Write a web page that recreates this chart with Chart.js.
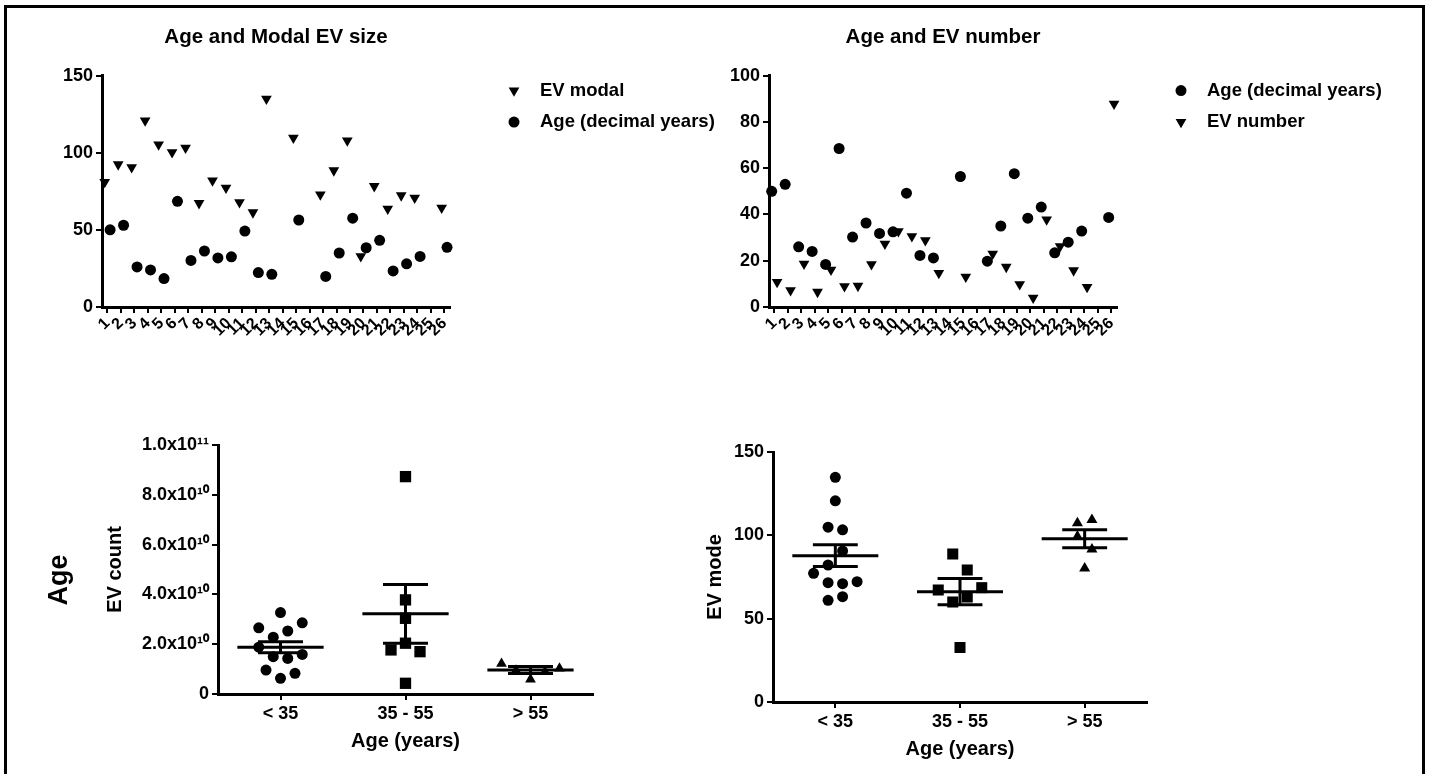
<!DOCTYPE html>
<html>
<head>
<meta charset="utf-8">
<title>Age and EV</title>
<script src="https://cdn.jsdelivr.net/npm/chart.js@4.4.1/dist/chart.umd.min.js"></script>
<style>
  html, body { margin: 0; padding: 0; background: #fff; }
  body { width: 1429px; height: 774px; position: relative; overflow: hidden; }
  .frame { position: absolute; left: 4px; top: 5px; width: 1421px; height: 820px; box-sizing: border-box; border: 3px solid #000; }
  canvas { position: absolute; }
</style>
</head>
<body>
<div class="frame"></div>
<canvas id="modalChart" width="720" height="390" style="left:0;top:0"></canvas>
<canvas id="numberChart" width="739" height="390" style="left:690px;top:0"></canvas>
<canvas id="countChart" width="640" height="374" style="left:0;top:400px"></canvas>
<canvas id="modeChart" width="789" height="374" style="left:640px;top:400px"></canvas>
<script>
// subjects 1..26 (14, 16 and 25 have no values)
const subjects = ['1','2','3','4','5','6','7','8','9','10','11','12','13','14','15','16','17','18','19','20','21','22','23','24','25','26'];
const evModal  = [81, 92.4, 90.6, 120.8, 105.3, 100.3, 103.2, 67.3, 82, 77.3, 67.8, 61.3, 134.9, null, 109.6, null, 72.9, 88.5, 107.9, 32.8, 78.3, 63.7, 72.3, 70.8, null, 64.3];
const ageYears = [50, 53, 26, 24, 18.4, 68.5, 30.2, 36.3, 31.8, 32.5, 49.2, 22.3, 21.2, null, 56.4, null, 19.8, 35, 57.6, 38.4, 43.2, 23.4, 28, 32.8, null, 38.7];
const evNumber = [10.8, 7.2, 18.7, 6.5, 16.1, 8.9, 9.1, 18.4, 27.3, 32.7, 30.5, 28.8, 14.7, null, 13, null, 23, 17.3, 9.8, 4, 37.8, 26.2, 15.8, 8.6, null, 87.8];

// grouped by age
const ageGroups = ['< 35', '35 - 55', '> 55'];
const countUnder35 = [3.27e10, 2.66e10, 2.28e10, 2.53e10, 2.86e10, 1.88e10, 1.50e10, 1.43e10, 1.59e10, 0.96e10, 0.63e10, 0.83e10];
const count35to55  = [8.73e10, 3.78e10, 3.04e10, 1.77e10, 2.04e10, 1.70e10, 0.43e10];
const countOver55  = [1.22e10, 0.95e10, 0.59e10, 0.90e10, 1.03e10];
const countMean = [1.88e10, 3.22e10, 0.96e10];
const countSem  = [0.22e10, 1.18e10, 0.14e10];
const countTicks = ['0', '2.0x10¹⁰', '4.0x10¹⁰', '6.0x10¹⁰', '8.0x10¹⁰', '1.0x10¹¹'];

const modeUnder35 = [134.8, 120.7, 104.9, 103.3, 82.2, 90.6, 77.2, 71.6, 71, 72.2, 61, 63.2];
const mode35to55  = [88.8, 79.2, 67.2, 60, 63, 68.6, 32.7];
const modeOver55  = [107.3, 109.3, 99.3, 91.6, 80.2];
const modeMean = [87.8, 66.2, 98.0];
const modeSem  = [6.5, 7.9, 5.4];

const FONT = "'Liberation Sans', Arial, Helvetica, sans-serif";
const black = '#000';
const bold = size => ({ family: FONT, size, weight: 'bold' });

// legend at the right of the plot, like the Prism export
const sideKey = {
  id: 'sideKey',
  afterDraw(chart, args, o) {
    if (!o || !o.show) return;
    const { ctx, chartArea } = chart;
    ctx.save();
    ctx.fillStyle = black;
    ctx.font = `bold ${o.size}px ${FONT}`;
    ctx.textAlign = 'left';
    ctx.textBaseline = 'middle';
    chart.data.datasets.forEach((ds, i) => {
      const x = chartArea.right + o.dx;
      const y = chartArea.top + o.dy + i * o.gap;
      Chart.helpers.drawPoint(ctx, { pointStyle: ds.pointStyle, rotation: ds.pointRotation || 0, radius: ds.pointRadius, borderWidth: 0 }, x, y);
      ctx.fillText(ds.label, x + o.textGap, y);
    });
    ctx.restore();
  }
};

// spread points of similar value side by side (scatter dot plot)
const swarm = {
  id: 'swarm',
  afterDatasetsUpdate(chart, args, o) {
    if (!o || !o.rowHeight) return;
    chart.data.datasets.forEach((ds, di) => {
      const pts = chart.getDatasetMeta(di).data;
      const order = pts.map((p, i) => i).sort((a, b) => pts[b].y - pts[a].y);
      let k = 0;
      while (k < order.length) {
        const baseY = pts[order[k]].y;
        const row = [];
        while (k < order.length && baseY - pts[order[k]].y <= o.rowHeight) row.push(order[k++]);
        row.sort((a, b) => a - b);
        row.forEach((idx, j) => { pts[idx].x += (j - (row.length - 1) / 2) * o.step; });
      }
    });
  }
};

// mean line with SEM whiskers
const meanSem = {
  id: 'meanSem',
  afterDatasetsDraw(chart, args, o) {
    if (!o || !o.means) return;
    const { ctx, scales: { x, y } } = chart;
    const unit = x.getPixelForValue(1) - x.getPixelForValue(0);
    const seg = (x0, y0, x1, y1) => { ctx.beginPath(); ctx.moveTo(x0, y0); ctx.lineTo(x1, y1); ctx.stroke(); };
    ctx.save();
    ctx.strokeStyle = black;
    ctx.lineWidth = o.lineWidth;
    o.means.forEach((m, i) => {
      const cx = x.getPixelForValue(i);
      const hi = y.getPixelForValue(m + o.sems[i]);
      const mid = y.getPixelForValue(m);
      const lo = y.getPixelForValue(m - o.sems[i]);
      seg(cx, hi, cx, lo);
      seg(cx - unit * o.meanHalf, mid, cx + unit * o.meanHalf, mid);
      seg(cx - unit * o.semHalf, hi, cx + unit * o.semHalf, hi);
      seg(cx - unit * o.semHalf, lo, cx + unit * o.semHalf, lo);
    });
    ctx.restore();
  }
};

// big rotated row label
const rowLabel = {
  id: 'rowLabel',
  afterDraw(chart, args, o) {
    if (!o || !o.text) return;
    const ctx = chart.ctx;
    ctx.save();
    ctx.translate(o.x, o.y);
    ctx.rotate(-Math.PI / 2);
    ctx.fillStyle = black;
    ctx.font = `bold ${o.size}px ${FONT}`;
    ctx.textAlign = 'center';
    ctx.textBaseline = 'middle';
    ctx.fillText(o.text, 0, 0);
    ctx.restore();
  }
};

const axisGrid = { drawOnChartArea: false, drawTicks: true, tickLength: 6, color: black, lineWidth: 2 };
const axisBorder = { display: true, color: black, width: 3 };

function subjectChart(id, o) {
  const datasets = o.series.map(s => ({
    label: s.label,
    data: s.values.map((v, i) => v == null ? null : { x: i + 1 + s.shift, y: v }).filter(Boolean),
    pointStyle: s.shape,
    pointRotation: s.rotation || 0,
    pointRadius: s.radius,
    backgroundColor: black,
    borderColor: black,
    borderWidth: 0,
    clip: false
  }));
  return new Chart(document.getElementById(id), {
    type: 'scatter',
    data: { datasets },
    plugins: [sideKey],
    options: {
      responsive: false,
      animation: false,
      events: [],
      layout: { padding: o.padding },
      plugins: {
        legend: { display: false },
        tooltip: { enabled: false },
        title: { display: true, text: o.title, fullSize: false, color: black, font: bold(20.5), padding: { top: 0, bottom: 26 } },
        sideKey: { show: true, dx: 64, dy: 15, gap: 31.5, textGap: 26, size: 18.5 }
      },
      scales: {
        x: {
          type: 'linear', min: 0.6, max: 26.42,
          afterBuildTicks: s => { s.ticks = subjects.map((_, i) => ({ value: i + 1 })); },
          afterFit: s => { s.height = 60; },
          ticks: { autoSkip: false, minRotation: 45, maxRotation: 45, padding: 1, color: black, font: bold(16),
                   callback: v => subjects[v - 1] },
          grid: axisGrid, border: axisBorder
        },
        y: {
          min: 0, max: o.yMax,
          afterFit: s => { s.width = 50; },
          ticks: { stepSize: o.yStep, padding: 3, color: black, font: bold(18) },
          grid: axisGrid, border: axisBorder
        }
      }
    }
  });
}

function groupChart(id, o) {
  const datasets = o.groups.map((vals, i) => ({
    label: ageGroups[i],
    data: vals.map(v => ({ x: ageGroups[i], y: v })),
    pointStyle: o.shapes[i].shape,
    pointRadius: o.shapes[i].radius,
    backgroundColor: black,
    borderColor: black,
    borderWidth: 0,
    clip: false
  }));
  return new Chart(document.getElementById(id), {
    type: 'scatter',
    data: { datasets },
    plugins: [swarm, meanSem, rowLabel],
    options: {
      responsive: false,
      animation: false,
      events: [],
      layout: { padding: o.padding },
      plugins: {
        legend: { display: false },
        tooltip: { enabled: false },
        swarm: { rowHeight: 16.2, step: 14.5 },
        meanSem: { means: o.means, sems: o.sems, lineWidth: 3, meanHalf: 0.345, semHalf: 0.18 },
        rowLabel: o.rowLabel || {}
      },
      scales: {
        x: {
          type: 'category', labels: ageGroups, offset: true,
          afterFit: s => { s.height = o.xHeight; },
          ticks: { padding: 3, color: black, font: bold(18) },
          grid: Object.assign({}, axisGrid, { offset: false }),
          border: axisBorder,
          title: { display: true, text: 'Age (years)', color: black, font: bold(20), padding: { top: 4, bottom: 4 } }
        },
        y: {
          min: 0, max: o.yMax,
          afterFit: s => { s.width = o.yWidth; },
          ticks: { stepSize: o.yStep, padding: 3, color: black, font: bold(18),
                   callback: o.tickText ? (v, i) => o.tickText[i] : undefined },
          grid: axisGrid, border: axisBorder,
          title: { display: true, text: o.yTitle, color: black, font: bold(20), padding: { top: 4, bottom: 4 } }
        }
      }
    }
  });
}

subjectChart('modalChart', {
  title: 'Age and Modal EV size',
  yMax: 150, yStep: 50,
  padding: { left: 52, right: 270, top: 25, bottom: 23 },
  series: [
    { label: 'EV modal', values: evModal, shift: -0.2, shape: 'triangle', rotation: 180, radius: 6.2 },
    { label: 'Age (decimal years)', values: ageYears, shift: 0.2, shape: 'circle', radius: 5.5 }
  ]
});

subjectChart('numberChart', {
  title: 'Age and EV number',
  yMax: 100, yStep: 20,
  padding: { left: 29, right: 312, top: 25, bottom: 23 },
  series: [
    { label: 'Age (decimal years)', values: ageYears, shift: -0.2, shape: 'circle', radius: 5.5 },
    { label: 'EV number', values: evNumber, shift: 0.2, shape: 'triangle', rotation: 180, radius: 6.2 }
  ]
});

groupChart('countChart', {
  groups: [countUnder35, count35to55, countOver55],
  shapes: [{ shape: 'circle', radius: 5.5 }, { shape: 'rect', radius: 8 }, { shape: 'triangle', radius: 6.2 }],
  means: countMean, sems: countSem,
  yMax: 1e11, yStep: 2e10, tickText: countTicks, yTitle: 'EV count',
  padding: { left: 99, right: 47, top: 45, bottom: 17 },
  yWidth: 119, xHeight: 63,
  rowLabel: { text: 'Age', x: 60, y: 180, size: 27 }
});

groupChart('modeChart', {
  groups: [modeUnder35, mode35to55, modeOver55],
  shapes: [{ shape: 'circle', radius: 5.5 }, { shape: 'rect', radius: 7.8 }, { shape: 'triangle', radius: 6.4 }],
  means: modeMean, sems: modeSem,
  yMax: 150, yStep: 50, yTitle: 'EV mode',
  padding: { left: 59, right: 282, top: 52, bottom: 9 },
  yWidth: 74, xHeight: 63
});
</script>
</body>
</html>
